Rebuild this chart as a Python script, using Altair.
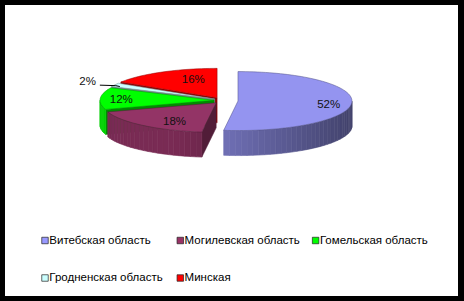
import math
import altair as alt
import pandas as pd

# ---- data ----
regions = ["Витебская область", "Могилевская область", "Гомельская область",
           "Гродненская область", "Минская"]
shares = [52, 18, 12, 2, 16]

# ---- styles / layout ----
top_colors = ["#9494F0", "#933466", "#00FF00", "#CCFFFF", "#FF0000"]
legend_colors = ["#9999FF", "#993366", "#00FF00", "#CCFFFF", "#FF0000"]
explode = [18, 6, 6, 6, 6]
label_dx = [2, 15, -4, 0, 19]
label_dy = [2, 1, 1, 0, 2]

W, H = 464, 301
CX, CY, RX, RY, DEPTH = 220, 100.5, 114, 29.5, 25
FONT = "Liberation Sans"


def shade(hex_color, f):
    h = hex_color.lstrip("#")
    r, g, b = (int(h[i:i + 2], 16) for i in (0, 2, 4))
    r, g, b = (max(0, min(255, int(round(c * f)))) for c in (r, g, b))
    return "#%02x%02x%02x" % (r, g, b)


total = float(sum(shares))
slices = []
acc = 0.0
for i, s in enumerate(shares):
    a0 = acc / total * 2 * math.pi
    a1 = (acc + s) / total * 2 * math.pi
    acc += s
    mid = (a0 + a1) / 2
    e = explode[i]
    slices.append(dict(i=i, a0=a0, a1=a1, mid=mid,
                       ox=e * math.sin(mid), oy=-e * math.cos(mid) * 0.5))


def pt(sl, a, r=1.0, dz=0.0):
    return (CX + sl["ox"] + RX * r * math.sin(a),
            CY + sl["oy"] - RY * r * math.cos(a) + dz)


rows = []
pid = [0]


def add_poly(points, fill, stroke, sw):
    pts = list(points) + [points[0]]
    for k, (x, y) in enumerate(pts):
        rows.append(dict(pid=pid[0], seq=k, x=x, y=y, fill=fill, stroke=stroke, sw=sw))
    pid[0] += 1


def arc_angles(a0, a1, step=math.radians(2)):
    n = max(2, int(math.ceil((a1 - a0) / step)) + 1)
    return [a0 + (a1 - a0) * k / (n - 1) for k in range(n)]


# paint back-to-front
for sl in sorted(slices, key=lambda s: -math.cos(s["mid"])):
    col = top_colors[sl["i"]]
    a0, a1 = sl["a0"], sl["a1"]
    cx0, cy0 = pt(sl, 0, r=0)
    side = shade(col, 0.55)
    if -math.sin(a0) > 1e-6:
        x, y = pt(sl, a0)
        add_poly([(cx0, cy0), (x, y), (x, y + DEPTH), (cx0, cy0 + DEPTH)], side, side, 0.5)
    if math.sin(a1) > 1e-6:
        x, y = pt(sl, a1)
        add_poly([(cx0, cy0), (x, y), (x, y + DEPTH), (cx0, cy0 + DEPTH)], side, side, 0.5)
    w0 = max(a0, math.pi / 2)
    w1 = min(a1, 3 * math.pi / 2)
    if w1 > w0:
        angs = arc_angles(w0, w1, math.radians(3))
        for j in range(len(angs) - 1):
            am = (angs[j] + angs[j + 1]) / 2
            f = min(0.82, 0.72 - 0.27 * math.sin(am))
            c = shade(col, f)
            p0 = pt(sl, angs[j])
            p1 = pt(sl, angs[j + 1])
            add_poly([p0, p1, (p1[0], p1[1] + DEPTH), (p0[0], p0[1] + DEPTH)], c, c, 0.6)
    top = [(cx0, cy0)] + [pt(sl, a) for a in arc_angles(a0, a1)]
    add_poly(top, col, shade(col, 0.55), 0.5)

poly_df = pd.DataFrame(rows)

# data labels
lab_in, lab_out, lead = [], [], []
for sl in slices:
    k = sl["i"]
    txt = "%d%%" % shares[k]
    if shares[k] >= 5:
        x, y = pt(sl, sl["mid"], r=0.78)
        lab_in.append(dict(x=x + label_dx[k], y=y + label_dy[k], t=txt))
    else:
        x, y = pt(sl, sl["mid"], r=1.19)
        lab_out.append(dict(x=x + label_dx[k], y=y + label_dy[k], t=txt))
        xa, _ = pt(sl, sl["mid"], r=1.15)
        xb, yb = pt(sl, sl["mid"], r=0.95)
        lead.append(dict(x=xa, y=y + 3, x2=xb - 4, y2=y + 3.5))
        lead.append(dict(x=xb - 4, y=y + 3.5, x2=xb, y2=yb + 1))

# legend layout (3 columns, 2 rows)
leg = []
for k, name in enumerate(regions):
    c, r = k % 3, k // 3
    sx = 45 + 135.3 * c
    sy = 240.5 + 37.5 * r
    leg.append(dict(sx=sx, sy=sy, tx=sx + 4.3, name=name, color=legend_colors[k]))
leg_df = pd.DataFrame(leg)

xs = alt.Scale(domain=[0, W], nice=False, zero=False)
ys = alt.Scale(domain=[0, H], nice=False, zero=False, reverse=True)
X = lambda f: alt.X(f, type="quantitative", scale=xs, axis=None)
Y = lambda f: alt.Y(f, type="quantitative", scale=ys, axis=None)

frame = alt.Chart(pd.DataFrame({"k": [0]})).mark_rect(fill="white").encode(
    x=alt.value(5), x2=alt.value(458), y=alt.value(5), y2=alt.value(296))

pie = alt.Chart(poly_df).mark_line(filled=True, strokeJoin="round").encode(
    x=X("x"), y=Y("y"),
    detail="pid:N",
    order=alt.Order("seq:Q"),
    fill=alt.Fill("fill:N", scale=None),
    stroke=alt.Stroke("stroke:N", scale=None),
    strokeWidth=alt.StrokeWidth("sw:Q", scale=None),
)

txt_in = alt.Chart(pd.DataFrame(lab_in)).mark_text(
    font=FONT, fontSize=11.5, color="#111111", align="center", baseline="middle"
).encode(x=X("x"), y=Y("y"), text="t:N")

txt_out = alt.Chart(pd.DataFrame(lab_out)).mark_text(
    font=FONT, fontSize=11.5, color="#111111", align="right", baseline="middle"
).encode(x=X("x"), y=Y("y"), text="t:N")

leader = alt.Chart(pd.DataFrame(lead)).mark_rule(color="black", strokeWidth=1).encode(
    x=X("x"), y=Y("y"), x2="x2:Q", y2="y2:Q")

leg_sq = alt.Chart(leg_df).mark_point(
    shape="square", filled=True, size=42, stroke="#222222", strokeWidth=0.7, opacity=1
).encode(x=X("sx"), y=Y("sy"), fill=alt.Fill("color:N", scale=None))

leg_txt = alt.Chart(leg_df).mark_text(
    font=FONT, fontSize=11.5, color="black", align="left", baseline="middle"
).encode(x=X("tx"), y=Y("sy"), text="name:N")

chart = alt.layer(frame, pie, txt_in, leader, txt_out, leg_sq, leg_txt).properties(
    width=W, height=H, padding=0, autosize=alt.AutoSizeParams(type="none"),
    background="black"
).configure_view(stroke=None)

chart.save("out.html", embed_options={"renderer": "svg", "actions": False})
